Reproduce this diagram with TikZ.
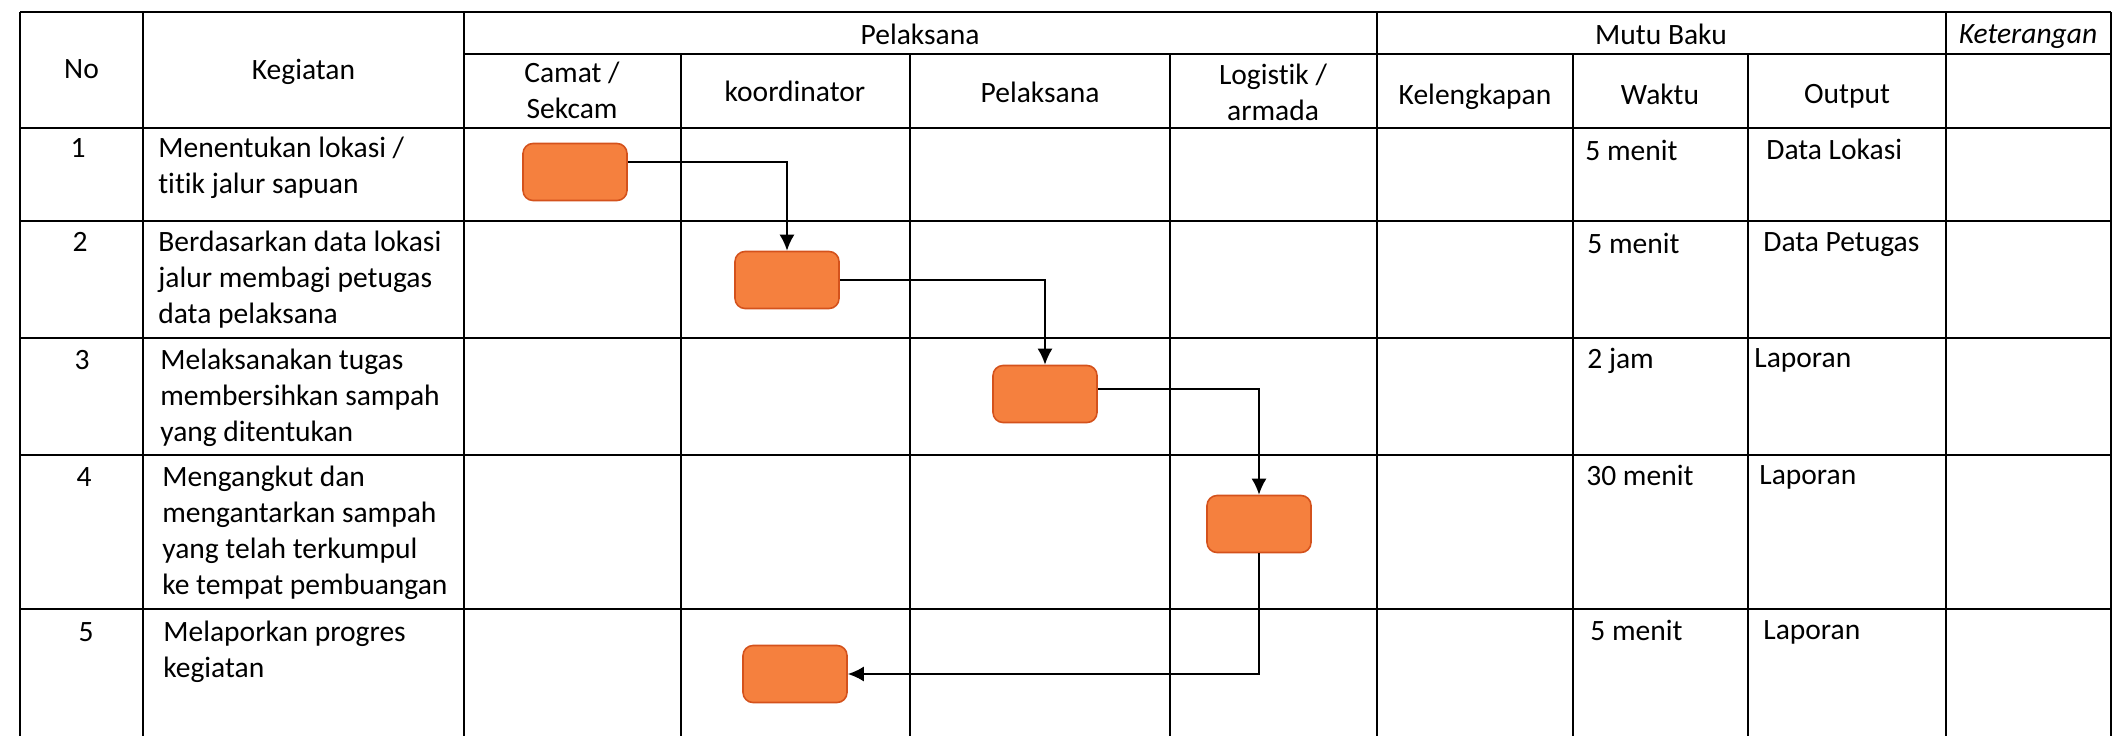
\documentclass[tikz,border=0pt]{standalone}
\usepackage{fontspec}
\setmainfont{Carlito}[Ligatures=NoCommon]
\usetikzlibrary{arrows.meta}
\definecolor{boxfill}{RGB}{245,128,62}
\definecolor{boxline}{RGB}{212,82,28}

\begin{document}
\begin{tikzpicture}[x=0.2mm,y=-0.2mm,
		txt/.style={inner sep=0pt,font=\fontsize{16.8}{20.4}\selectfont},
		cell/.style={txt,anchor=north west,align=left},
		head/.style={txt,anchor=north,align=center},
		task/.style={rectangle,rounded corners=2mm,fill=boxfill,draw=boxline,line width=0.9pt,minimum width=20.8mm,minimum height=11.4mm},
		flow/.style={-{Latex[length=3.2mm,width=3mm]},line width=1.1pt},
		tableline/.style={line width=1.2pt}]
			\useasboundingbox (0,0) rectangle (2123,736);
			
			\draw[tableline] (20,12) -- (2111,12);
			\draw[tableline] (464,54) -- (2111,54);
			\draw[tableline] (20,128) -- (2111,128);
			\draw[tableline] (20,221) -- (2111,221);
			\draw[tableline] (20,338) -- (2111,338);
			\draw[tableline] (20,455) -- (2111,455);
			\draw[tableline] (20,609) -- (2111,609);
			\draw[tableline] (20,12) -- (20,736);
			\draw[tableline] (143,12) -- (143,736);
			\draw[tableline] (464,12) -- (464,736);
			\draw[tableline] (681,54) -- (681,736);
			\draw[tableline] (910,54) -- (910,736);
			\draw[tableline] (1170,54) -- (1170,736);
			\draw[tableline] (1377,12) -- (1377,736);
			\draw[tableline] (1573,54) -- (1573,736);
			\draw[tableline] (1748,54) -- (1748,736);
			\draw[tableline] (1946,12) -- (1946,736);
			\draw[tableline] (2111,12) -- (2111,736);
			
			\node[head] (hNo) at (81.5,59) {No};
			\node[head] (hKeg) at (303.5,59) {Kegiatan};
			\node[head] (hPel) at (920,24) {Pelaksana};
			\node[head] (hMutu) at (1661,24) {Mutu Baku};
			\node[head] (hKet) at (2028,24) {\itshape Keterangan};
			\node[head] (hCamat) at (572,62) {Camat /\\Sekcam};
			\node[head] (hKoord) at (795,81) {koordinator};
			\node[head] (hPelak) at (1040,82) {Pelaksana};
			\node[head] (hLog) at (1273,64) {Logistik /\\armada};
			\node[head] (hKel) at (1475,84) {Kelengkapan};
			\node[head] (hWaktu) at (1660,84) {Waktu};
			\node[head] (hOut) at (1847,84) {Output};
			
			\node[head] (no1) at (78,138) {1};
			\node[cell] (keg1) at (158,137) {Menentukan lokasi /\\titik jalur sapuan};
			\node[cell] (wk1) at (1585,140) {5 menit};
			\node[cell] (out1) at (1766,139) {Data Lokasi};
			
			\node[head] (no2) at (80,232) {2};
			\node[cell] (keg2) at (158,231) {Berdasarkan data lokasi\\jalur membagi petugas\\data pelaksana};
			\node[cell] (wk2) at (1587,233) {5 menit};
			\node[cell] (out2) at (1763,232) {Data Petugas};
			
			\node[head] (no3) at (82,350) {3};
			\node[cell] (keg3) at (160,349) {Melaksanakan tugas\\membersihkan sampah\\yang ditentukan};
			\node[cell] (wk3) at (1587,348) {2 jam};
			\node[cell] (out3) at (1754,348) {Laporan};
			
			\node[head] (no4) at (84,467) {4};
			\node[cell] (keg4) at (162,466) {Mengangkut dan\\mengantarkan sampah\\yang telah terkumpul\\ke tempat pembuangan};
			\node[cell] (wk4) at (1586,465) {30 menit};
			\node[cell] (out4) at (1759,465) {Laporan};
			
			\node[head] (no5) at (86,622) {5};
			\node[cell] (keg5) at (163,621) {Melaporkan progres\\kegiatan};
			\node[cell] (wk5) at (1590,620) {5 menit};
			\node[cell] (out5) at (1763,620) {Laporan};
			
			\node[task] (b1) at (575,172) {};
			\node[task] (b2) at (787,280) {};
			\node[task] (b3) at (1045,394) {};
			\node[task] (b4) at (1259,524) {};
			\node[task] (b5) at (795,674) {};
			
			\draw[flow] ([yshift=2mm]b1.east) -| (b2.north);
			\draw[flow] (b2.east) -| (b3.north);
			\draw[flow] ([yshift=1mm]b3.east) -| (b4.north);
			\draw[flow] (b4.south) |- (b5.east);
		\end{tikzpicture}
\end{document}
